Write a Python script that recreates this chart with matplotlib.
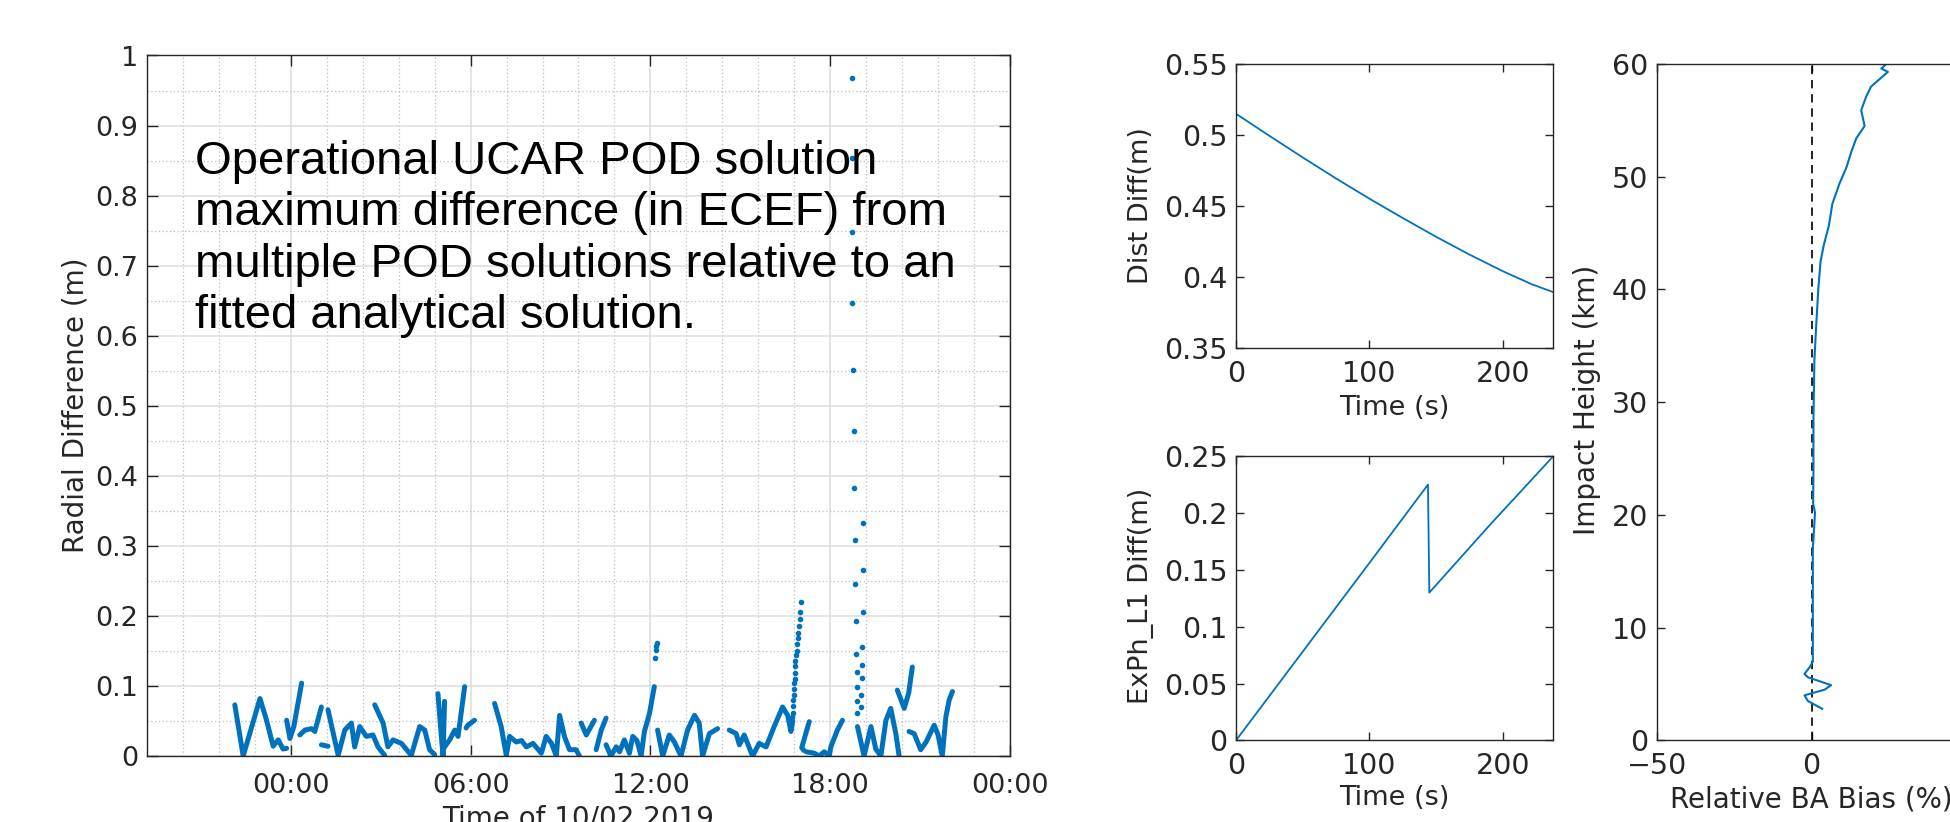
"""Radial POD difference over a day, plus three small diagnostic panels."""

import matplotlib
matplotlib.use("Agg")
import matplotlib.pyplot as plt
import numpy as np
from matplotlib.ticker import FixedLocator, FuncFormatter, MultipleLocator

BLUE = "#0072BD"
INK = "#262626"
nan = np.nan

# left panel: hours relative to 10/02 2019 00:00, radial difference in metres
# (NaN separates the separate arcs)
radial_hours = [
    -1.87, -1.59, -1.03, -0.81, -0.59, -0.42, -0.26, -0.14, nan,
    -0.14, -0.03, 0.10, 0.36, nan,
    0.30, 0.47, 0.69, 0.80, 1.02, nan,
    1.02, 1.24, nan,
    1.24, 1.58, 1.80, 2.02, 2.13, 2.30, 2.52, 2.74, 2.91, 3.13, nan,
    2.80, 3.08, 3.24, 3.41, 3.69, 4.02, 4.30, 4.47, 4.63, 4.80, nan,
    4.91, 5.00, 5.08, 5.13, nan,
    5.08, 5.30, 5.47, 5.58, 5.80, nan,
    5.85, 5.91, 6.13, nan,
    6.80, 7.02, 7.19, 7.30, 7.52, 7.70, 7.86, 8.08, 8.36, 8.52, 8.70, 8.86,
    8.97, 9.13, 9.30, 9.52, 9.63, nan,
    9.69, 9.86, 10.05, 10.13, nan,
    10.19, 10.36, 10.52, nan,
    10.52, 10.68, 10.86, 10.97, 11.13, 11.30, 11.41, 11.55, 11.69, 11.80,
    11.97, 12.13, nan,
    12.24, 12.41, 12.63, 12.80, 13.02, 13.24, 13.47, 13.63, 13.74, 13.97,
    14.24, nan,
    14.63, 14.86, 14.97, 15.13, 15.41, 15.63, 15.86, 16.13, 16.41, 16.58,
    16.69, 16.75, nan,
    17.30, 17.05, 17.12, nan,
    17.20, 17.47, 17.63, 17.80, 17.97, 18.02, 18.24, 18.41, nan,
    18.91, 19.13, 19.36, 19.52, 19.69, 19.86, 20.02, 20.19, 20.30, nan,
    20.24, 20.47, 20.62, 20.74, nan,
    20.63, 20.80, 21.02, 21.20, 21.47, 21.60, 21.74, 21.86, 21.97, 22.08,
]
radial_diff = [
    0.073, 0.000, 0.082, 0.051, 0.014, 0.023, 0.010, 0.011, nan,
    0.051, 0.025, 0.042, 0.104, nan,
    0.030, 0.037, 0.039, 0.035, 0.070, nan,
    0.016, 0.014, nan,
    0.066, 0.001, 0.037, 0.047, 0.013, 0.042, 0.028, 0.030, 0.013, 0.001, nan,
    0.073, 0.047, 0.013, 0.023, 0.018, 0.001, 0.042, 0.037, 0.009, 0.002, nan,
    0.089, 0.040, 0.000, 0.078, nan,
    0.010, 0.023, 0.037, 0.028, 0.099, nan,
    0.040, 0.044, 0.051, nan,
    0.075, 0.042, 0.001, 0.028, 0.020, 0.022, 0.013, 0.018, 0.004, 0.028,
    0.018, 0.000, 0.058, 0.028, 0.009, 0.009, 0.000, nan,
    0.047, 0.030, 0.045, 0.051, nan,
    0.009, 0.037, 0.054, nan,
    0.016, 0.000, 0.013, 0.006, 0.023, 0.004, 0.028, 0.022, 0.000, 0.035,
    0.061, 0.099, nan,
    0.037, 0.000, 0.030, 0.020, 0.000, 0.037, 0.058, 0.047, 0.000, 0.032,
    0.039, nan,
    0.037, 0.032, 0.016, 0.030, 0.000, 0.018, 0.013, 0.042, 0.070, 0.058,
    0.035, 0.050, nan,
    0.049, 0.012, 0.008, nan,
    0.006, 0.004, 0.000, 0.006, 0.000, 0.013, 0.037, 0.051, nan,
    0.042, 0.000, 0.042, 0.010, 0.000, 0.051, 0.068, 0.032, 0.000, nan,
    0.094, 0.068, 0.090, 0.127, nan,
    0.035, 0.032, 0.009, 0.020, 0.044, 0.030, 0.000, 0.056, 0.080, 0.092,
]

# sparse single epochs (the spikes)
spike_hours = [
    12.15, 12.17, 12.19, 12.21,
    16.74, 16.75, 16.76, 16.77, 16.78, 16.79, 16.80, 16.81, 16.82, 16.83,
    16.84, 16.86, 16.88, 16.90, 16.92, 16.94, 16.96, 16.98, 17.00, 17.02,
    18.72, 18.73, 18.73, 18.74, 18.77, 18.78, 18.80, 18.82, 18.84, 18.85,
    18.86, 18.88, 18.89, 18.90, 18.91,
    19.10, 19.10, 19.08, 19.07, 19.06, 19.05, 19.04, 19.03,
]
spike_diff = [
    0.140, 0.151, 0.157, 0.162,
    0.055, 0.062, 0.071, 0.080, 0.087, 0.096, 0.104, 0.110, 0.119, 0.128,
    0.135, 0.144, 0.150, 0.160, 0.168, 0.176, 0.186, 0.195, 0.206, 0.220,
    0.968, 0.853, 0.748, 0.646, 0.551, 0.464, 0.382, 0.309, 0.246, 0.193,
    0.146, 0.120, 0.099, 0.078, 0.062,
    0.333, 0.266, 0.206, 0.155, 0.130, 0.111, 0.087, 0.070,
]

# middle panels: seconds vs metres
dist_time = [0, 25, 50, 75, 100, 125, 150, 175, 200, 222, 238]
dist_diff = [0.515, 0.4995, 0.4843, 0.4695, 0.4553, 0.4417, 0.4285, 0.4160,
             0.4043, 0.3950, 0.3895]
exph_time = [0, 50, 100, 144, 145, 190, 238]
exph_diff = [0.0, 0.078, 0.156, 0.225, 0.130, 0.189, 0.250]

# right panel: relative bending-angle bias (%) vs impact height (km)
ba_bias = [3.4, -1.2, -2.3, 4.2, 6.3, -1.2, -2.3, -0.6, 0.4, 0.4, 0.4, 1.1,
           0.5, 0.6, 0.6, 0.9, 1.5, 2.2, 2.9, 3.9, 5.6, 6.7, 9.0, 11.2, 12.8,
           14.4, 17.1, 16.0, 17.6, 19.2, 24.6, 22.5, 24.1]
impact_height = [2.8, 3.5, 4.0, 4.5, 4.9, 5.6, 5.9, 6.5, 7.0, 12.0, 17.0,
                 20.2, 21.0, 23.9, 28.6, 33.7, 36.9, 40.2, 42.5, 43.9, 45.7,
                 47.6, 49.4, 50.8, 52.2, 53.4, 54.5, 55.9, 57.1, 58.0, 59.3,
                 59.6, 60.0]

time_ticks = [0, 6, 12, 18, 24]
time_labels = ["00:00", "06:00", "12:00", "18:00", "00:00"]

note = ("Operational UCAR POD solution\n"
        "maximum difference (in ECEF) from\n"
        "multiple POD solutions relative to an\n"
        "fitted analytical solution.")

W, H = 1950, 822
plt.rcParams["font.family"] = ["DejaVu Sans"]
num_fmt = FuncFormatter(lambda v, _: f"{v:g}".replace("-", "\u2212"))


def box(x0, y0, x1, y1):
    """Pixel box (top-left origin) to figure fraction rectangle."""
    return [x0 / W, 1 - y1 / H, (x1 - x0) / W, (y1 - y0) / H]


def matlab_axes(ax, size, xpad=6):
    for s in ax.spines.values():
        s.set_color(INK)
        s.set_linewidth(1.0)
    ax.tick_params(which="major", direction="in", top=True, right=True,
                   length=6, width=1, colors=INK, labelsize=size, pad=6)
    ax.tick_params(axis="x", which="major", pad=xpad)
    ax.tick_params(which="minor", length=0)


fig = plt.figure(figsize=(W / 100, H / 100), dpi=100)

# ---- left: radial difference over the day
ax = fig.add_axes(box(146.7, 55.5, 1010, 756))
ax.plot(radial_hours, radial_diff, color=BLUE, lw=3.6,
        solid_capstyle="round", solid_joinstyle="round")
ax.plot(spike_hours, spike_diff, ".", color=BLUE, ms=6)
ax.set_xlim(-4.81, 24)
ax.set_ylim(0, 1)
ax.xaxis.set_major_locator(FixedLocator(time_ticks))
ax.set_xticklabels(time_labels)
ax.xaxis.set_minor_locator(MultipleLocator(1.2))
ax.yaxis.set_major_locator(MultipleLocator(0.1))
ax.yaxis.set_minor_locator(MultipleLocator(0.05))
ax.yaxis.set_major_formatter(num_fmt)
ax.grid(True, which="major", color="#dcdcdc", lw=1.1)
ax.grid(True, which="minor", color="#bdbdbd", lw=0.9, ls=(0, (1, 2)))
ax.set_axisbelow(True)
matlab_axes(ax, 19.5, xpad=12)
ax.tick_params(which="major", length=8)
ax.set_ylabel("Radial Difference (m)", fontsize=20, color=INK)
ax.yaxis.set_label_coords(-0.066, 0.501)
ax.set_xlabel("Time of 10/02 2019", fontsize=20, color=INK)
ax.xaxis.set_label_coords(0.5, -0.069)
fig.text(195 / W, 1 - 140 / H, note, family="Liberation Sans", fontsize=34,
         va="top", ha="left", linespacing=1.22, color="black")

# ---- middle top: distance difference
ax1 = fig.add_axes(box(1236, 64, 1553.3, 348.3))
ax1.plot(dist_time, dist_diff, color=BLUE, lw=1.3)
ax1.set_xlim(0, 238)
ax1.set_ylim(0.35, 0.55)
ax1.xaxis.set_major_locator(FixedLocator([0, 100, 200]))
ax1.yaxis.set_major_locator(MultipleLocator(0.05))
ax1.yaxis.set_major_formatter(num_fmt)
matlab_axes(ax1, 20.5, xpad=8.5)
ax1.set_xlabel("Time (s)", fontsize=19.5, color=INK)
ax1.xaxis.set_label_coords(0.5, -0.165)
ax1.set_ylabel("Dist Diff(m)", fontsize=19.5, color=INK)
ax1.yaxis.set_label_coords(-0.258, 0.501)

# ---- middle bottom: excess phase difference
ax2 = fig.add_axes(box(1236, 456.2, 1553.3, 740.4))
ax2.plot(exph_time, exph_diff, color=BLUE, lw=1.3)
ax2.set_xlim(0, 238)
ax2.set_ylim(0, 0.25)
ax2.xaxis.set_major_locator(FixedLocator([0, 100, 200]))
ax2.yaxis.set_major_locator(MultipleLocator(0.05))
ax2.yaxis.set_major_formatter(num_fmt)
matlab_axes(ax2, 20.5, xpad=8.5)
ax2.set_xlabel("Time (s)", fontsize=19.5, color=INK)
ax2.xaxis.set_label_coords(0.5, -0.157)
ax2.set_ylabel("ExPh_L1 Diff(m)", fontsize=19.5, color=INK)
ax2.yaxis.set_label_coords(-0.258, 0.51)

# ---- right: bending angle bias profile (runs past the figure edge)
ax3 = fig.add_axes(box(1656.6, 64, 1966.6, 740.4))
ax3.axvline(0, color="black", lw=1.2, ls=(0, (5, 3.5)))
ax3.plot(ba_bias, impact_height, color=BLUE, lw=1.5)
ax3.set_xlim(-50, 50)
ax3.set_ylim(0, 60)
ax3.xaxis.set_major_locator(FixedLocator([-50, 0, 50]))
ax3.yaxis.set_major_locator(MultipleLocator(10))
ax3.xaxis.set_major_formatter(num_fmt)
matlab_axes(ax3, 20.5, xpad=8.5)
ax3.set_xlabel("Relative BA Bias (%)", fontsize=20, color=INK)
ax3.xaxis.set_label_coords(0.5, -0.066)
ax3.set_ylabel("Impact Height (km)", fontsize=20, color=INK)
ax3.yaxis.set_label_coords(-0.179, 0.503)

fig.savefig("out.png", dpi=100)
